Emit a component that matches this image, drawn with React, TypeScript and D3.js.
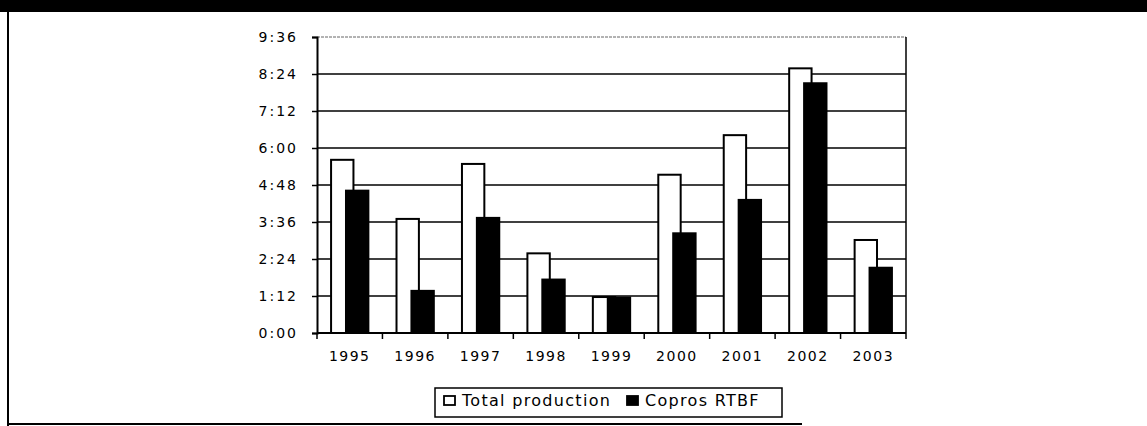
import React, { useEffect, useRef } from 'react';
import * as d3 from 'd3';

// Durations in minutes (axis is h:mm)
const years = ['1995', '1996', '1997', '1998', '1999', '2000', '2001', '2002', '2003'];
const totalProduction = [337, 222, 329, 155, 70, 308, 385, 515, 181];
const coprosRTBF = [277, 82, 224, 104, 69, 194, 259, 486, 127];
const yTicks = [0, 72, 144, 216, 288, 360, 432, 504, 576];
const seriesNames = ['Total production', 'Copros RTBF'];

const fmtTime = (m: number) => `${Math.floor(m / 60)}:${String(m % 60).padStart(2, '0')}`;

export default function App() {
    const svgRef = useRef<SVGSVGElement | null>(null);

    useEffect(() => {
        if (!svgRef.current) return;
        const svg = d3.select(svgRef.current);
        svg.selectAll('*').remove();

        const width = 1147;
        const height = 426;
        const plot = { left: 317, right: 906, top: 37, bottom: 333 };
        const font = 'DejaVu Sans, Verdana, sans-serif';

        svg.attr('width', width).attr('height', height);

        // outer frame bits (scanned page look)
        svg.append('rect').attr('x', 0).attr('y', 0).attr('width', width).attr('height', 12).attr('fill', '#000');
        svg.append('line').attr('x1', 8).attr('x2', 8).attr('y1', 12).attr('y2', 426)
            .attr('stroke', '#000').attr('stroke-width', 2);
        svg.append('line').attr('x1', 8).attr('x2', 802).attr('y1', 424).attr('y2', 424)
            .attr('stroke', '#000').attr('stroke-width', 2);

        const x = d3.scaleBand<string>().domain(years).range([plot.left, plot.right]).padding(0);
        const y = d3.scaleLinear().domain([0, 576]).range([plot.bottom, plot.top]);

        // gridlines
        svg.append('g')
            .selectAll('line')
            .data(yTicks.filter(t => t > 0 && t < 576))
            .enter()
            .append('line')
            .attr('x1', plot.left).attr('x2', plot.right)
            .attr('y1', d => y(d)).attr('y2', d => y(d))
            .attr('stroke', '#000').attr('stroke-width', 1.5);

        // plot top and right border
        svg.append('line').attr('x1', plot.left).attr('x2', plot.right).attr('y1', y(576)).attr('y2', y(576))
            .attr('stroke', '#666').attr('stroke-width', 1).attr('stroke-dasharray', '3,1');
        svg.append('line').attr('x1', plot.right).attr('x2', plot.right).attr('y1', y(576)).attr('y2', plot.bottom)
            .attr('stroke', '#000').attr('stroke-width', 1.5);

        // bars (overlapping pair)
        const bw = x.bandwidth();
        const groupW = bw * 0.57;
        const barW = groupW * 0.6;
        const offsets = [bw / 2 - groupW / 2, bw / 2 + groupW / 2 - barW];
        const seriesData = [totalProduction, coprosRTBF];
        const fills = ['#fff', '#000'];

        seriesData.forEach((vals, si) => {
            svg.append('g')
                .selectAll('rect')
                .data(vals)
                .enter()
                .append('rect')
                .attr('x', (_d, i) => (x(years[i]) as number) + offsets[si])
                .attr('y', d => y(d))
                .attr('width', barW)
                .attr('height', d => plot.bottom - y(d))
                .attr('fill', fills[si])
                .attr('stroke', '#000')
                .attr('stroke-width', 2);
        });

        // Y axis
        const yAxis = d3.axisLeft(y).tickValues(yTicks).tickFormat(d => fmtTime(d as number)).tickSize(5).tickPadding(14);
        const gY = svg.append('g').attr('transform', `translate(${plot.left},0)`).call(yAxis);
        gY.select('.domain').attr('stroke', '#000').attr('stroke-width', 2);
        gY.selectAll('.tick line').attr('stroke', '#000').attr('stroke-width', 1.5);
        gY.selectAll('text')
            .style('font-family', font).style('font-size', '14px').style('letter-spacing', '2px')
            .attr('fill', '#000');

        // X axis with ticks at category boundaries
        const gX = svg.append('g').attr('transform', `translate(0,${plot.bottom})`);
        gX.append('line').attr('x1', plot.left).attr('x2', plot.right).attr('y1', 0).attr('y2', 0)
            .attr('stroke', '#000').attr('stroke-width', 2);
        gX.selectAll('.xtick')
            .data(years.concat(['end']))
            .enter()
            .append('line')
            .attr('x1', (d, i) => i < years.length ? (x(d) as number) : plot.right)
            .attr('x2', (d, i) => i < years.length ? (x(d) as number) : plot.right)
            .attr('y1', 0).attr('y2', 6)
            .attr('stroke', '#000').attr('stroke-width', 1.5);
        gX.selectAll('.xlabel')
            .data(years)
            .enter()
            .append('text')
            .attr('x', d => (x(d) as number) + bw / 2)
            .attr('y', 28)
            .attr('text-anchor', 'middle')
            .style('font-family', font)
            .style('font-size', '14px')
            .style('letter-spacing', '1.5px')
            .text(d => d);

        // Legend
        const lg = svg.append('g').attr('transform', 'translate(435,388)');
        lg.append('rect').attr('x', 0).attr('y', 0).attr('width', 347).attr('height', 29)
            .attr('fill', '#fff').attr('stroke', '#000').attr('stroke-width', 1.5);
        const legendX = [9, 192];
        seriesNames.forEach((name, i) => {
            lg.append('rect').attr('x', legendX[i]).attr('y', 8).attr('width', 11).attr('height', 9)
                .attr('fill', fills[i]).attr('stroke', '#000').attr('stroke-width', 1.8);
            lg.append('text').attr('x', legendX[i] + 18).attr('y', 18)
                .style('font-family', font).style('font-size', '16px').style('letter-spacing', '1.3px')
                .text(name);
        });
    }, []);

    return (
        <div style={{ position: 'absolute', left: 0, top: 0, background: '#fff' }}>
            <svg ref={svgRef} style={{ display: 'block' }} />
        </div>
    );
}
